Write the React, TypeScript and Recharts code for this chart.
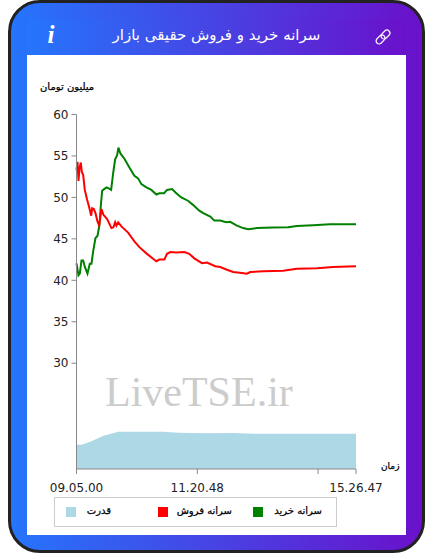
import { ComposedChart, Area, Line, XAxis, YAxis } from 'recharts'

// x is the sample position along the session, 0 = first sample, 280 = last
const buyTimes = [0, 2, 3.3, 5, 6.7, 8.3, 11, 13.3, 15, 16.7, 19, 21, 23, 24.3, 25.7, 27.7, 30, 32.7, 34.7, 36.7, 38.7, 40.7, 42, 44, 48.3, 53, 58, 61.7, 65, 70, 75, 80, 83, 87.7, 90.7, 95.7, 100, 105, 111.7, 116.7, 123, 127, 134, 138, 144, 150, 154, 160.7, 167, 172, 180.7, 197, 212, 220.7, 237, 254, 280]
const buyValues = [42.05, 40.6, 40.8, 42.4, 42.4, 41.65, 40.8, 42, 42, 43.5, 45.1, 45.35, 46.7, 48.9, 50.8, 51, 51.2, 51.05, 50.9, 52.9, 54.6, 55.1, 56, 55.3, 54.6, 53.6, 52.6, 52.3, 51.6, 51.2, 50.9, 50.35, 50.5, 50.5, 50.9, 51, 50.5, 50, 49.6, 49.1, 48.4, 48.1, 47.7, 47.2, 47.2, 47, 47.05, 46.6, 46.3, 46.15, 46.3, 46.36, 46.4, 46.55, 46.65, 46.77, 46.77]

const sellTimes = [0, 1, 2, 3, 4.3, 5.3, 6.7, 8.3, 10.7, 12.7, 14.7, 15.7, 17.3, 19, 21, 22.7, 25, 27, 30.7, 35, 37, 38.7, 40, 41.7, 45, 51.7, 58, 63, 70, 76.7, 80, 83, 88, 90.7, 94, 100, 108, 113, 118, 125.7, 130.7, 139, 144, 150.7, 157, 165.7, 170.7, 174, 187, 207, 220.7, 240.7, 257, 280]
const sellValues = [53.3, 54.3, 52, 53.5, 54.2, 53.1, 52.7, 50.9, 49.7, 48.8, 47.8, 48.7, 48.6, 48.1, 47.1, 46.6, 48.6, 47.9, 47.4, 46.3, 46.4, 47, 46.6, 47, 46.5, 45.75, 44.7, 44, 43.25, 42.6, 42.3, 42.5, 42.5, 43.2, 43.4, 43.35, 43.4, 43.2, 42.65, 42.07, 42.15, 41.7, 41.6, 41.27, 41, 40.87, 40.8, 41, 41.1, 41.15, 41.4, 41.45, 41.6, 41.7]

const powerTimes = [0, 5, 15, 27, 33, 42, 87, 102, 130, 157, 177, 280]
const powerValues = [6.85, 6.85, 7.8, 9.4, 9.8, 10.5, 10.5, 10.2, 10.05, 10.15, 9.95, 9.95]

const yTicks = [30, 35, 40, 45, 50, 55, 60]
const xTicks = [0, 121, 242, 280]
const xTickLabels = ['09.05.00', '11.20.48', '', '15.26.47']

const titleText = 'سرانه خرید و فروش حقیقی بازار'
const yUnit = 'میلیون تومان'
const xUnit = 'زمان'
const watermark = 'LiveTSE.ir'
const legendNames = ['قدرت', 'سرانه فروش', 'سرانه خرید']
const legendColors = ['#add8e6', '#ff0000', '#008000']
const legendSwatchX = [11, 103, 198]
const legendTextRight = [56, 177, 267]

const font = '"DejaVu Sans", sans-serif'
const gradient = 'linear-gradient(90deg, #2575fc, #6a11cb)'
const smallLabel = { fontSize: 10, color: '#000', WebkitTextStroke: '0.25px #000', whiteSpace: 'nowrap' } as const

const zip = (times: number[], values: number[]) => times.map((t, i) => ({ t, v: values[i] }))
const buyData = zip(buyTimes, buyValues)
const sellData = zip(sellTimes, sellValues)
const powerData = zip(powerTimes, powerValues)

function LinkIcon() {
  return (
    <svg width={18} height={18} viewBox="0 0 18 18" style={{ position: 'absolute', left: 374, top: 28 }}>
      <g fill="none" stroke="#fff" strokeWidth={1.2} transform="rotate(-45 9 9)">
        <rect x={0.5} y={6} width={10} height={6} rx={3} />
        <rect x={7.5} y={6} width={10} height={6} rx={3} />
      </g>
    </svg>
  )
}

export default function App() {
  return (
    <div style={{
      position: 'absolute', left: 8, top: 0, width: 417, height: 553, boxSizing: 'border-box',
      border: '3px solid #222', borderRadius: 32, background: gradient, overflow: 'hidden', fontFamily: font,
    }}>
      <div style={{ position: 'absolute', left: -11, top: -3, width: 433, height: 559 }}>
        {/* header band */}
        <div style={{ position: 'absolute', left: 27, top: 18, width: 379, height: 37, background: gradient }} />
        <div style={{ position: 'absolute', left: 39, top: 21, width: 24, textAlign: 'center', color: '#fff', font: 'italic bold 25px "Liberation Serif", serif' }}>i</div>
        <div dir="rtl" style={{ position: 'absolute', left: 27, top: 26, width: 379, textAlign: 'center', color: '#fff', fontSize: 15, whiteSpace: 'nowrap' }}>{titleText}</div>
        <LinkIcon />

        <div style={{ position: 'absolute', left: 27, top: 55, width: 379, height: 480, background: '#fff' }}>
          <ComposedChart width={379} height={480} margin={{ top: 59.5, right: 50, bottom: 0, left: 0 }}>
            <XAxis
              xAxisId="x"
              dataKey="t"
              type="number"
              domain={[0, 280]}
              ticks={xTicks}
              interval={0}
              tickFormatter={(v: number) => xTickLabels[xTicks.indexOf(v)]}
              height={66}
              tickSize={5}
              tickMargin={9}
              stroke="#888"
              tick={{ fontSize: 12, fill: '#222', fontFamily: font }}
            />
            <YAxis
              yAxisId="price"
              type="number"
              domain={[17.24, 60]}
              ticks={yTicks}
              interval={0}
              width={49.5}
              tickSize={5}
              tickMargin={3}
              stroke="#888"
              tick={{ fontSize: 12, fill: '#222', fontFamily: font }}
            />
            <YAxis yAxisId="power" orientation="right" type="number" domain={[0, 100]} hide />
            <Area xAxisId="x" yAxisId="power" data={powerData} dataKey="v" type="linear" stroke="none" fill="#add8e6" fillOpacity={1} dot={false} activeDot={false} isAnimationActive={false} />
            <Line xAxisId="x" yAxisId="price" data={buyData} dataKey="v" type="linear" stroke="#008000" strokeWidth={2} dot={false} activeDot={false} isAnimationActive={false} />
            <Line xAxisId="x" yAxisId="price" data={sellData} dataKey="v" type="linear" stroke="#ff0000" strokeWidth={2} dot={false} activeDot={false} isAnimationActive={false} />
          </ComposedChart>

          <div dir="rtl" style={{ ...smallLabel, position: 'absolute', left: 13, top: 26 }}>{yUnit}</div>
          <div dir="rtl" style={{ ...smallLabel, position: 'absolute', left: 354, top: 406, fontSize: 9 }}>{xUnit}</div>
          <div style={{ position: 'absolute', left: 78, top: 313, fontFamily: '"Liberation Serif", serif', fontSize: 42, color: '#ccc', whiteSpace: 'nowrap' }}>{watermark}</div>

          {/* legend */}
          <div style={{ position: 'absolute', left: 27, top: 442, width: 283, height: 30, boxSizing: 'border-box', border: '1px solid #ccc' }}>
            {legendNames.map((name, i) => (
              <div key={name}>
                <div style={{ position: 'absolute', left: legendSwatchX[i], top: 9, width: 10, height: 10, background: legendColors[i] }} />
                <div dir="rtl" style={{ ...smallLabel, position: 'absolute', right: 281 - legendTextRight[i], top: 7 }}>{name}</div>
              </div>
            ))}
          </div>
        </div>
      </div>
    </div>
  )
}
